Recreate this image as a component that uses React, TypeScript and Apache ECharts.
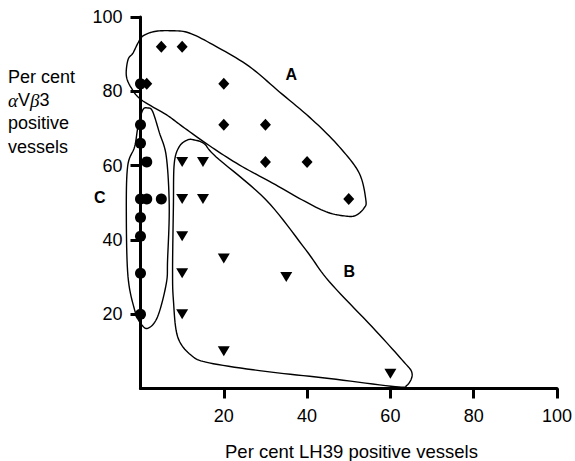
import React, { useEffect, useRef } from "react";
import * as echarts from "echarts";

// ---- data ----
const diamondX = [5, 10, 1.5, 20, 20, 30, 30, 40, 50];
const diamondY = [92, 92, 82, 82, 71, 71, 61, 61, 51];

const circleX = [0, 0, 0, 1.5, 0, 1.5, 5, 0, 0, 0, 0];
const circleY = [82, 71, 66, 61, 51, 51, 51, 46, 41, 31, 20];

const triangleX = [10, 15, 10, 15, 10, 20, 10, 35, 10, 20, 60];
const triangleY = [61, 61, 51, 51, 41, 35, 31, 30, 20, 10, 4];

const tickValues = [20, 40, 60, 80, 100];

// group labels and hand-drawn outlines (data coordinates)
const groupNames = ["A", "B", "C"];
const groupLabelX = [36.2, 50.1, -9.8];
const groupLabelY = [84.4, 31.4, 51.3];

const outlineA: number[][] = [
  [-3.0, 88.5], [-1.8, 90.3], [-0.6, 93.0], [0.6, 94.9], [3.4, 96.1], [7.4, 96.3],
  [11.7, 95.7], [18.1, 92.1], [26.1, 86.7], [33.3, 79.9], [41.3, 72.3], [47.7, 65.1],
  [52.5, 58.0], [54.1, 50.8], [53.7, 48.6], [51.7, 46.6], [49.3, 46.4], [44.5, 47.6],
  [38.1, 51.2], [31.7, 55.3], [23.7, 60.2], [16.5, 65.4], [10.1, 70.5], [6.2, 73.7],
  [0.2, 77.7], [-2.2, 80.9], [-3.4, 84.2],
];
const outlineB: number[][] = [
  [9.3, 65.1], [11.3, 66.9], [12.9, 66.9], [15.3, 65.9], [18.1, 62.4], [30.1, 50.8],
  [39.7, 37.3], [45.3, 28.8], [55.6, 16.6], [62.8, 7.7], [65.2, 4.1], [64.0, 0.9],
  [61.2, 0.5], [45.3, 2.7], [30.0, 4.6], [16.5, 6.9], [12.1, 9.0], [8.9, 14.0],
  [7.9, 23.8], [7.7, 31.9], [7.9, 49.0], [8.1, 60.5],
];
const outlineC: number[][] = [
  [1.75, 75.5], [2.9, 74.6], [4.55, 68.8], [6.2, 62.4], [6.9, 49.0], [6.5, 34.6],
  [6.2, 28.3], [4.1, 19.3], [1.75, 16.2], [0.0, 17.6], [-1.4, 21.1], [-3.0, 30.1],
  [-3.4, 46.3], [-3.1, 59.7], [-1.4, 65.1], [-0.6, 70.5], [0.55, 75.0],
];
const outlines = [outlineA, outlineB, outlineC];

function closedSpline(pts: number[][], steps: number): number[][] {
  const n = pts.length;
  const out: number[][] = [];
  for (let i = 0; i < n; i++) {
    const p0 = pts[(i - 1 + n) % n];
    const p1 = pts[i];
    const p2 = pts[(i + 1) % n];
    const p3 = pts[(i + 2) % n];
    for (let s = 0; s < steps; s++) {
      const t = s / steps;
      const t2 = t * t;
      const t3 = t2 * t;
      const f = (a: number, b: number, c: number, d: number) =>
        0.5 * (2 * b + (-a + c) * t + (2 * a - 5 * b + 4 * c - d) * t2 + (-a + 3 * b - 3 * c + d) * t3);
      out.push([f(p0[0], p1[0], p2[0], p3[0]), f(p0[1], p1[1], p2[1], p3[1])]);
    }
  }
  return out;
}

const FONT = "'Liberation Sans', Arial, Helvetica, sans-serif";

export default function App() {
  const ref = useRef<HTMLDivElement>(null);
  useEffect(() => {
    document.body.style.margin = "0";
    if (!ref.current) return;
    const chart = echarts.init(ref.current, null, { renderer: "svg" });

    const axisCommon = {
      type: "value" as const,
      min: 0,
      max: 100,
      interval: 20,
      splitLine: { show: false },
      axisLine: { show: true, lineStyle: { color: "#000", width: 3 } },
      axisTick: { show: true, inside: false, length: 10, lineStyle: { color: "#000", width: 3 }, customValues: tickValues },
      axisLabel: { color: "#000", fontSize: 18, fontFamily: FONT, margin: 18, customValues: tickValues },
    };

    const sym = { color: "#000", opacity: 1 };

    chart.setOption({
      animation: false,
      backgroundColor: "#fff",
      grid: { left: 140.5, right: 16.5, top: 17, bottom: 72.5, containLabel: false },
      xAxis: { ...axisCommon },
      yAxis: { ...axisCommon },
      graphic: [
        { type: "text", x: 8, y: 77, style: { text: "Per cent", fill: "#000", font: `18px ${FONT}`, verticalAlign: "middle" } },
        {
          type: "text", x: 8, y: 100.2,
          style: {
            text: "{g|α}V{g|β}3", fill: "#000", font: `18px ${FONT}`, verticalAlign: "middle",
            rich: { g: { fontFamily: "'Liberation Serif', 'DejaVu Serif', serif", fontStyle: "italic", fontSize: 19, fill: "#000" } },
          },
        },
        { type: "text", x: 8, y: 123.4, style: { text: "positive", fill: "#000", font: `18px ${FONT}`, verticalAlign: "middle" } },
        { type: "text", x: 8, y: 146.6, style: { text: "vessels", fill: "#000", font: `18px ${FONT}`, verticalAlign: "middle" } },
        {
          type: "text", x: 351.5, y: 451.5,
          style: { text: "Per cent LH39 positive vessels", fill: "#000", font: `18.5px ${FONT}`, align: "center", verticalAlign: "middle" },
        },
      ],
      series: [
        {
          type: "custom",
          coordinateSystem: "cartesian2d",
          clip: false,
          silent: true,
          z: 1,
          data: groupNames.map((_, i) => [groupLabelX[i], groupLabelY[i]]),
          renderItem: (params: any, api: any) => {
            const i = params.dataIndex;
            const px = outlines[i].map((p) => api.coord(p));
            const pts = closedSpline(px, 10);
            const lp = api.coord([api.value(0), api.value(1)]);
            return {
              type: "group",
              children: [
                { type: "polygon", shape: { points: pts }, style: { fill: "none", stroke: "#000", lineWidth: 1.4 } },
                {
                  type: "text", x: lp[0], y: lp[1],
                  style: { text: groupNames[i], fill: "#000", font: `bold 16px ${FONT}`, align: "center", verticalAlign: "middle" },
                },
              ],
            };
          },
        },
        {
          type: "scatter", symbol: "diamond", symbolSize: [11, 12], itemStyle: sym, z: 3,
          data: diamondX.map((x, i) => [x, diamondY[i]]),
        },
        {
          type: "scatter", symbol: "circle", symbolSize: 11, itemStyle: sym, z: 3,
          data: circleX.map((x, i) => [x, circleY[i]]),
        },
        {
          type: "scatter", symbol: "triangle", symbolRotate: 180, symbolSize: [12, 10], itemStyle: sym, z: 3,
          data: triangleX.map((x, i) => [x, triangleY[i]]),
        },
      ],
    });
    return () => chart.dispose();
  }, []);
  return <div ref={ref} style={{ width: 575, height: 461 }} />;
}
